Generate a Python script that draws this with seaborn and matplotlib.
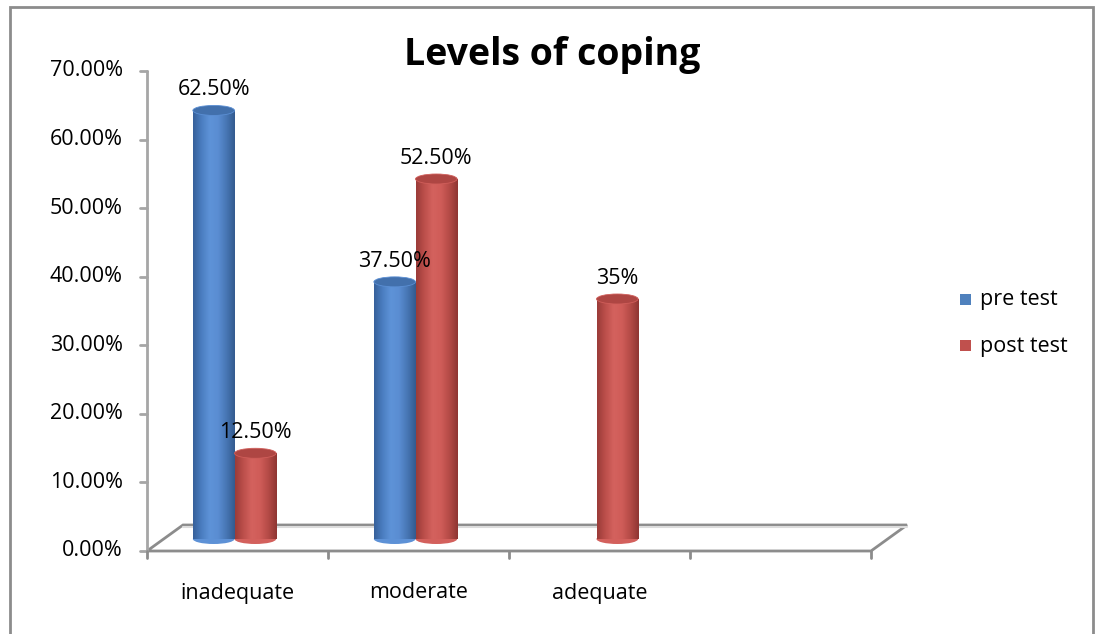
import numpy as np
import pandas as pd
import matplotlib
matplotlib.use("Agg")
import matplotlib.pyplot as plt
import matplotlib.transforms as mtransforms
from matplotlib.patches import Ellipse, Polygon, Rectangle
from matplotlib.colors import LinearSegmentedColormap
import seaborn as sns

# ---- data -------------------------------------------------------------
levels = ["inadequate", "moderate", "adequate"]
pre_test = [62.5, 37.5, 0.0]
post_test = [12.5, 52.5, 35.0]
value_labels_pre = ["62.50%", "37.50%", ""]
value_labels_post = ["12.50%", "52.50%", "35%"]
series_names = ["pre test", "post test"]
y_ticks = [0, 10, 20, 30, 40, 50, 60, 70]
y_tick_labels = ["0.00%", "10.00%", "20.00%", "30.00%", "40.00%",
                 "50.00%", "60.00%", "70.00%"]

df = pd.DataFrame({
    "level": levels * 2,
    "value": pre_test + post_test,
    "test": [series_names[0]] * 3 + [series_names[1]] * 3,
    "label": value_labels_pre + value_labels_post,
})

BLUE = "#4F81BD"
RED = "#C0504D"
GREY = "#8C8C8C"
FS = 15.5

sns.set_theme(style="white")
plt.rcParams["font.family"] = ["Open Sans", "DejaVu Sans"]

DPI = 100
fig = plt.figure(figsize=(10.96, 6.34), dpi=DPI)
fig.patch.set_facecolor("white")

W, H = 1096, 634
ax_l, ax_r, ax_t, ax_b = 147, 871, 71, 551
ax = fig.add_axes([ax_l / W, (H - ax_b) / H, (ax_r - ax_l) / W, (ax_b - ax_t) / H])
ax.set_facecolor("none")

sns.barplot(data=df, x="level", y="value", hue="test", order=levels,
            hue_order=series_names, palette=[BLUE, RED], width=0.46,
            gap=0, dodge=True, ax=ax, legend=False, saturation=1,
            linewidth=0, zorder=3)

ax.set_xlim(-0.5, 3.5)
ax.set_ylim(0, 70)
for s in ax.spines.values():
    s.set_visible(False)
ax.set_xlabel("")
ax.set_ylabel("")
ax.set_xticks([])
ax.set_yticks([])

px_per_unit = (ax_b - ax_t) / 70.0
# columns stand halfway back on the floor
lift = mtransforms.ScaledTranslation(-3 / DPI, 12 / DPI, fig.dpi_scale_trans)
col_trans = ax.transData + lift
cap_h = 10 / px_per_unit

grad = np.linspace(0, 1, 256).reshape(1, -1)
cmaps = {
    BLUE: LinearSegmentedColormap.from_list(
        "b", ["#36609A", "#4A7DC0", "#5E93D8", "#5A8DD2", "#4776B4", "#335A8E"]),
    RED: LinearSegmentedColormap.from_list(
        "r", ["#9A3B38", "#BC4F4B", "#D4625E", "#CF5C58", "#B44A46", "#8E3532"]),
}
cap_colors = {BLUE: "#4270AC", RED: "#AE4643"}

bars = [p for p in ax.patches if isinstance(p, Rectangle)]
for p in bars:
    x0, w, h = p.get_x(), p.get_width(), p.get_height()
    fc = matplotlib.colors.to_hex(p.get_facecolor())
    if h <= 0:
        p.set_visible(False)
        continue
    p.set_transform(col_trans)
    key = BLUE if fc.lower() == BLUE.lower() else RED
    cx = x0 + w / 2
    # rounded base
    ax.add_patch(Ellipse((cx, 0), w, cap_h, transform=col_trans,
                         facecolor=cmaps[key](0.45), edgecolor="none", zorder=2.9))
    # shaded body
    im = ax.imshow(grad, cmap=cmaps[key], aspect="auto",
                   extent=(x0, x0 + w, 0, h), zorder=3.1, interpolation="bicubic")
    im.set_transform(col_trans)
    im.set_clip_path(p)
    # top cap
    ax.add_patch(Ellipse((cx, h), w, cap_h, transform=col_trans,
                         facecolor=cap_colors[key], edgecolor=cmaps[key](0.55),
                         linewidth=0.6, zorder=3.3))

# value labels above each column
for p in bars:
    if p.get_height() <= 0:
        continue
    x0, w, h = p.get_x(), p.get_width(), p.get_height()
    hit = df[(np.isclose(df["value"], h))]
    txt = hit["label"].iloc[0]
    ax.annotate(txt, (x0 + w / 2, h), xycoords=col_trans,
                xytext=(0, 10), textcoords="offset pixels",
                ha="center", va="bottom", fontsize=FS, color="black", zorder=5)

# floor slab
dx, dy = 36 / (ax_r - ax_l), 26 / (ax_b - ax_t)
floor = Polygon([(0, 0), (1, 0), (1 + dx, dy), (dx, dy)], closed=True,
                transform=ax.transAxes, facecolor="white", edgecolor=GREY,
                linewidth=2.0, clip_on=False, zorder=1)
ax.add_patch(floor)
ax.plot([dx, 1 + dx], [dy - 0.004, dy - 0.004], transform=ax.transAxes,
        color="#DCDCDC", lw=1.5, clip_on=False, zorder=1.1)

# value axis
ax.plot([0, 0], [0, 70], transform=ax.get_yaxis_transform(), color="#A6A6A6",
        lw=2, clip_on=False, zorder=1.5)
for yv, lab in zip(y_ticks, y_tick_labels):
    ax.plot([-0.009, 0], [yv, yv], transform=ax.get_yaxis_transform(),
            color="#A6A6A6", lw=2, clip_on=False)
    ax.annotate(lab, (0, yv), xycoords=ax.get_yaxis_transform(),
                xytext=(-24, 0), textcoords="offset pixels",
                ha="right", va="center", fontsize=FS, color="black")

# category axis ticks and labels
for b in np.arange(-0.5, 4.0, 1.0):
    ax.plot([b, b], [0, -0.014], transform=ax.get_xaxis_transform(),
            color=GREY, lw=2, clip_on=False)
for i, lab in enumerate(levels):
    ax.annotate(lab, (i, 0), xycoords=ax.get_xaxis_transform(),
                xytext=(0, -42), textcoords="offset pixels",
                ha="center", va="center", fontsize=FS, color="black")

fig.text(552 / W, 1 - 55 / H, "Levels of coping", ha="center", va="center",
         fontsize=27, fontweight="bold", color="black")

# legend
for name, col, yy in zip(series_names, [BLUE, RED], [300, 346]):
    fig.patches.append(Rectangle((960 / W, 1 - (yy + 5) / H), 11 / W, 11 / H,
                                 transform=fig.transFigure, facecolor=col,
                                 edgecolor="none"))
    fig.text(980 / W, 1 - yy / H, name, ha="left", va="center",
             fontsize=FS, color="black")

# chart border
fig.patches.append(Rectangle((10 / W, -0.01), 1083 / W, 1 - 7 / H + 0.01,
                             transform=fig.transFigure, facecolor="none",
                             edgecolor=GREY, linewidth=2))

fig.savefig("out.png", dpi=DPI, facecolor="white")
